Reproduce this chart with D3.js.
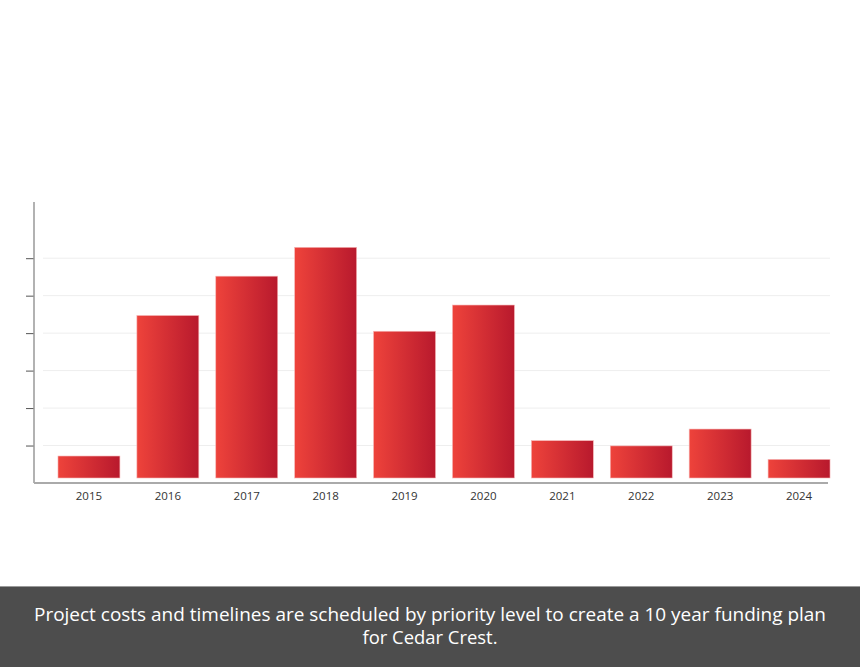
<!DOCTYPE html>
<html lang="en">
<head>
    <meta charset="UTF-8">
    <title>10 Year Funding Plan</title>
    <script src="https://d3js.org/d3.v7.min.js"></script>
    <style>
        body { margin: 0; background: #fff; }
        svg { display: block; }
        .year { font-family: 'Open Sans', sans-serif; font-size: 11.5px; fill: #333; text-anchor: middle; }
        .caption { font-family: 'Open Sans', sans-serif; font-size: 18px; fill: #fff; text-anchor: middle; }
    </style>
</head>
<body>
    <svg width="860" height="667"></svg>
    <script>
        // values (no axis units shown)
        const years = ["2015", "2016", "2017", "2018", "2019", "2020", "2021", "2022", "2023", "2024"];
        const costs = [0.72, 4.47, 5.52, 6.29, 4.05, 4.75, 1.13, 0.99, 1.44, 0.63];
        const gridTicks = [1, 2, 3, 4, 5, 6];
        const captionLines = [
            "Project costs and timelines are scheduled by priority level to create a 10 year funding plan",
            "for Cedar Crest."
        ];

        const svg = d3.select("svg");
        const W = 860, H = 667;

        const x = d3.scaleBand()
            .domain(years)
            .range([49.5, 838.5])
            .paddingInner(0.215)
            .paddingOuter(0.1075);

        const y = d3.scaleLinear()
            .domain([0, 7.5])
            .range([483, 202]);

        // gradient for the bars
        const grad = svg.append("defs").append("linearGradient")
            .attr("id", "barGrad")
            .attr("x1", "0%").attr("x2", "100%").attr("y1", "0%").attr("y2", "0%");
        grad.append("stop").attr("offset", "0%").attr("stop-color", "#ee433b");
        grad.append("stop").attr("offset", "100%").attr("stop-color", "#b8192d");

        // light gridlines
        svg.append("g").selectAll("line")
            .data(gridTicks)
            .join("line")
            .attr("x1", 43).attr("x2", 830)
            .attr("y1", d => y(d)).attr("y2", d => y(d))
            .attr("stroke", "#eeeeee")
            .attr("stroke-width", 1);

        // bars (sit a few px above the axis line)
        const barGap = 5;
        svg.append("g").selectAll("rect")
            .data(costs)
            .join("rect")
            .attr("x", (d, i) => x(years[i]))
            .attr("width", x.bandwidth())
            .attr("y", d => y(d))
            .attr("height", d => y(0) - barGap - y(d))
            .attr("fill", "url(#barGrad)")
            .attr("stroke", "#f6b5b5")
            .attr("stroke-width", 0.6);

        // left axis with ticks, no labels
        const yAxis = svg.append("g")
            .attr("transform", "translate(34,0)")
            .call(d3.axisLeft(y).tickValues(gridTicks).tickSize(8).tickFormat(""));
        yAxis.select(".domain").remove();
        yAxis.selectAll(".tick line").attr("stroke", "#555");
        svg.append("line")
            .attr("x1", 34).attr("x2", 34)
            .attr("y1", y.range()[1]).attr("y2", y(0))
            .attr("stroke", "#999").attr("stroke-width", 1.5);

        // bottom axis line
        svg.append("line")
            .attr("x1", 34).attr("x2", 828)
            .attr("y1", y(0)).attr("y2", y(0))
            .attr("stroke", "#aaa").attr("stroke-width", 1.8);

        // year labels
        svg.append("g").selectAll("text")
            .data(years)
            .join("text")
            .attr("class", "year")
            .attr("x", d => x(d) + x.bandwidth() / 2)
            .attr("y", 500)
            .text(d => d);

        // caption banner
        svg.append("rect")
            .attr("x", 0).attr("y", 586)
            .attr("width", W).attr("height", H - 586)
            .attr("fill", "#4d4d4d");
        svg.append("line")
            .attr("x1", 0).attr("x2", W)
            .attr("y1", 586.5).attr("y2", 586.5)
            .attr("stroke", "#9a9a9a");

        const capWidths = [792, 135];
        svg.append("g").selectAll("text")
            .data(captionLines)
            .join("text")
            .attr("class", "caption")
            .attr("x", W / 2)
            .attr("y", (d, i) => 621 + i * 23)
            .attr("textLength", (d, i) => capWidths[i])
            .attr("lengthAdjust", "spacingAndGlyphs")
            .text(d => d);
    </script>
</body>
</html>
